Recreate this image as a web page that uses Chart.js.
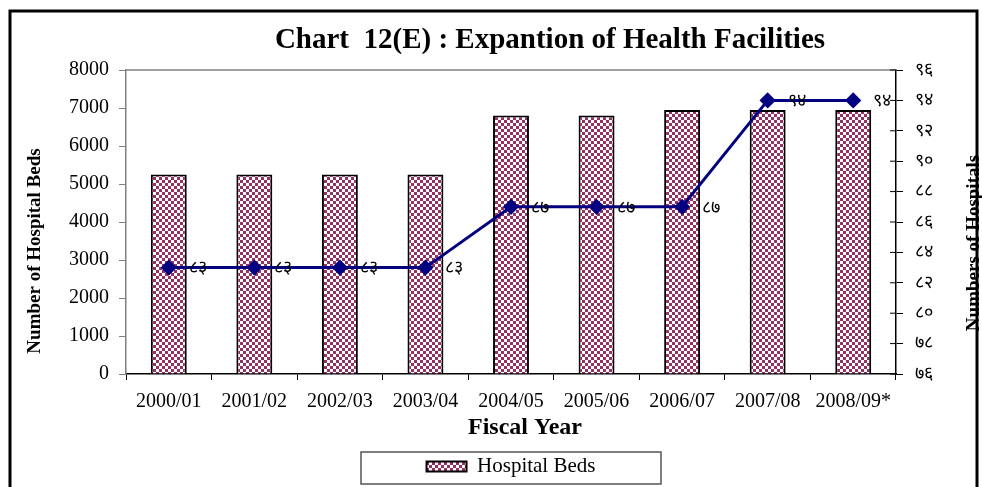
<!DOCTYPE html>
<html>
<head>
<meta charset="utf-8">
<script src="https://cdn.jsdelivr.net/npm/chart.js@4"></script>
<style>
  html, body { margin: 0; padding: 0; background: #fff; }
  #wrap { width: 982px; height: 487px; }
</style>
</head>
<body>
<div id="wrap"><canvas id="myChart" width="982" height="487"></canvas></div>
<script>
var years = ["2000/01", "2001/02", "2002/03", "2003/04", "2004/05", "2005/06", "2006/07", "2007/08", "2008/09*"];
var hospitalBeds = [5250, 5250, 5250, 5250, 6800, 6800, 6950, 6950, 6950];
var hospitals = [83, 83, 83, 83, 87, 87, 87, 94, 94];
var bedTicks = [0, 1000, 2000, 3000, 4000, 5000, 6000, 7000, 8000];
var hospitalTicks = [76, 78, 80, 82, 84, 86, 88, 90, 92, 94, 96];

var devDigits = ["०", "१", "२", "३", "४", "५", "६", "७", "८", "९"];
function toDev(n) {
  return String(n).split("").map(function (c) {
    return /[0-9]/.test(c) ? devDigits[+c] : c;
  }).join("");
}

// checkerboard fill for the bars
function makePattern() {
  var c = document.createElement("canvas");
  c.width = 6; c.height = 6;
  var g = c.getContext("2d");
  g.fillStyle = "#ffffff";
  g.fillRect(0, 0, 6, 6);
  g.fillStyle = "#962f62";
  g.fillRect(0, 0, 3, 3);
  g.fillRect(3, 3, 3, 3);
  return g.createPattern(c, "repeat");
}
var pattern = makePattern();

var serif = "'Liberation Serif', 'Times New Roman', serif";

var extras = {
  id: "extras",
  afterDraw: function (chart) {
    var ctx = chart.ctx;
    var area = chart.chartArea;
    ctx.save();

    // outer frame
    ctx.strokeStyle = "#000";
    ctx.lineWidth = 3;
    ctx.strokeRect(10, 11, 967, 500);

    // plot area top border
    ctx.strokeStyle = "#808080";
    ctx.lineWidth = 1.5;
    ctx.beginPath();
    ctx.moveTo(area.left, area.top);
    ctx.lineTo(area.right, area.top);
    ctx.stroke();

    // inner half of the right axis ticks
    var y1 = chart.scales.y1;
    ctx.strokeStyle = "#000";
    ctx.lineWidth = 1;
    hospitalTicks.forEach(function (v) {
      var py = y1.getPixelForValue(v);
      ctx.beginPath();
      ctx.moveTo(area.right - 6, py);
      ctx.lineTo(area.right, py);
      ctx.stroke();
    });

    // title
    ctx.fillStyle = "#000";
    ctx.font = "bold 29px " + serif;
    ctx.textAlign = "center";
    ctx.textBaseline = "middle";
    ctx.fillText("Chart  12(E) : Expantion of Health Facilities", 550, 41);

    // axis titles
    ctx.font = "bold 24px " + serif;
    ctx.fillText("Fiscal Year", 525, 428);

    ctx.font = "bold 19px " + serif;
    ctx.save();
    ctx.translate(35, 251);
    ctx.rotate(-Math.PI / 2);
    ctx.fillText("Number of Hospital Beds", 0, 0);
    ctx.restore();

    ctx.save();
    ctx.translate(974, 243);
    ctx.rotate(-Math.PI / 2);
    ctx.fillText("Numbers of Hospitals", 0, 0);
    ctx.restore();

    // value labels on the line
    var meta = chart.getDatasetMeta(1);
    ctx.font = "18px " + serif;
    ctx.textAlign = "left";
    meta.data.forEach(function (pt, i) {
      ctx.fillText(toDev(hospitals[i]), pt.x + 20, pt.y + 1);
    });

    // legend frame
    ctx.strokeStyle = "#555";
    ctx.lineWidth = 1.5;
    ctx.strokeRect(361, 452, 300, 32);

    ctx.restore();
  }
};

var ctx = document.getElementById("myChart").getContext("2d");
var myChart = new Chart(ctx, {
  type: "bar",
  data: {
    labels: years,
    datasets: [
      {
        type: "bar",
        label: "Hospital Beds",
        data: hospitalBeds,
        yAxisID: "y",
        backgroundColor: pattern,
        borderColor: "#000",
        borderWidth: 2,
        barPercentage: 0.42,
        categoryPercentage: 1,
        order: 2,
      },
      {
        type: "line",
        label: "Hospitals",
        data: hospitals,
        yAxisID: "y1",
        borderColor: "#000080",
        backgroundColor: "#000080",
        borderWidth: 3,
        pointStyle: "rectRot",
        pointRadius: 6,
        pointHoverRadius: 6,
        tension: 0,
        order: 1,
      },
    ],
  },
  options: {
    responsive: false,
    animation: false,
    layout: { padding: { top: 70, left: 0, right: 0, bottom: 0 } },
    plugins: {
      title: { display: false },
      tooltip: { enabled: false },
      legend: {
        display: true,
        position: "bottom",
        fullSize: false,
        labels: {
          filter: function (item) { return item.datasetIndex === 0; },
          boxWidth: 40,
          boxHeight: 10,
          color: "#000",
          font: { family: serif, size: 21 },
          padding: 8,
        },
      },
    },
    scales: {
      x: {
        grid: { drawOnChartArea: false, offset: true, tickLength: 6, color: "#000", tickColor: "#000" },
        border: { color: "#000", width: 1.5 },
        ticks: { color: "#000", font: { family: serif, size: 20 }, padding: 10, maxRotation: 0 },
        afterFit: function (scale) { scale.height = 74; },
      },
      y: {
        position: "left",
        min: 0,
        max: 8000,
        afterBuildTicks: function (scale) {
          scale.ticks = bedTicks.map(function (v) { return { value: v }; });
        },
        grid: { drawOnChartArea: false, tickLength: 7, color: "#808080", tickColor: "#808080" },
        border: { color: "#808080", width: 1.5 },
        ticks: {
          color: "#000",
          font: { family: serif, size: 20 },
          padding: 10,
          callback: function (v) { return String(v); },
        },
        afterFit: function (scale) { scale.width = 126; },
      },
      y1: {
        position: "right",
        min: 76,
        max: 96,
        afterBuildTicks: function (scale) {
          scale.ticks = hospitalTicks.map(function (v) { return { value: v }; });
        },
        grid: { drawOnChartArea: false, tickLength: 7, color: "#000", tickColor: "#000" },
        border: { color: "#000", width: 1.5 },
        ticks: {
          color: "#000",
          font: { family: serif, size: 18 },
          padding: 12,
          callback: function (v) { return toDev(v); },
        },
        afterFit: function (scale) { scale.width = 86; },
      },
    },
  },
  plugins: [extras],
});
</script>
</body>
</html>
